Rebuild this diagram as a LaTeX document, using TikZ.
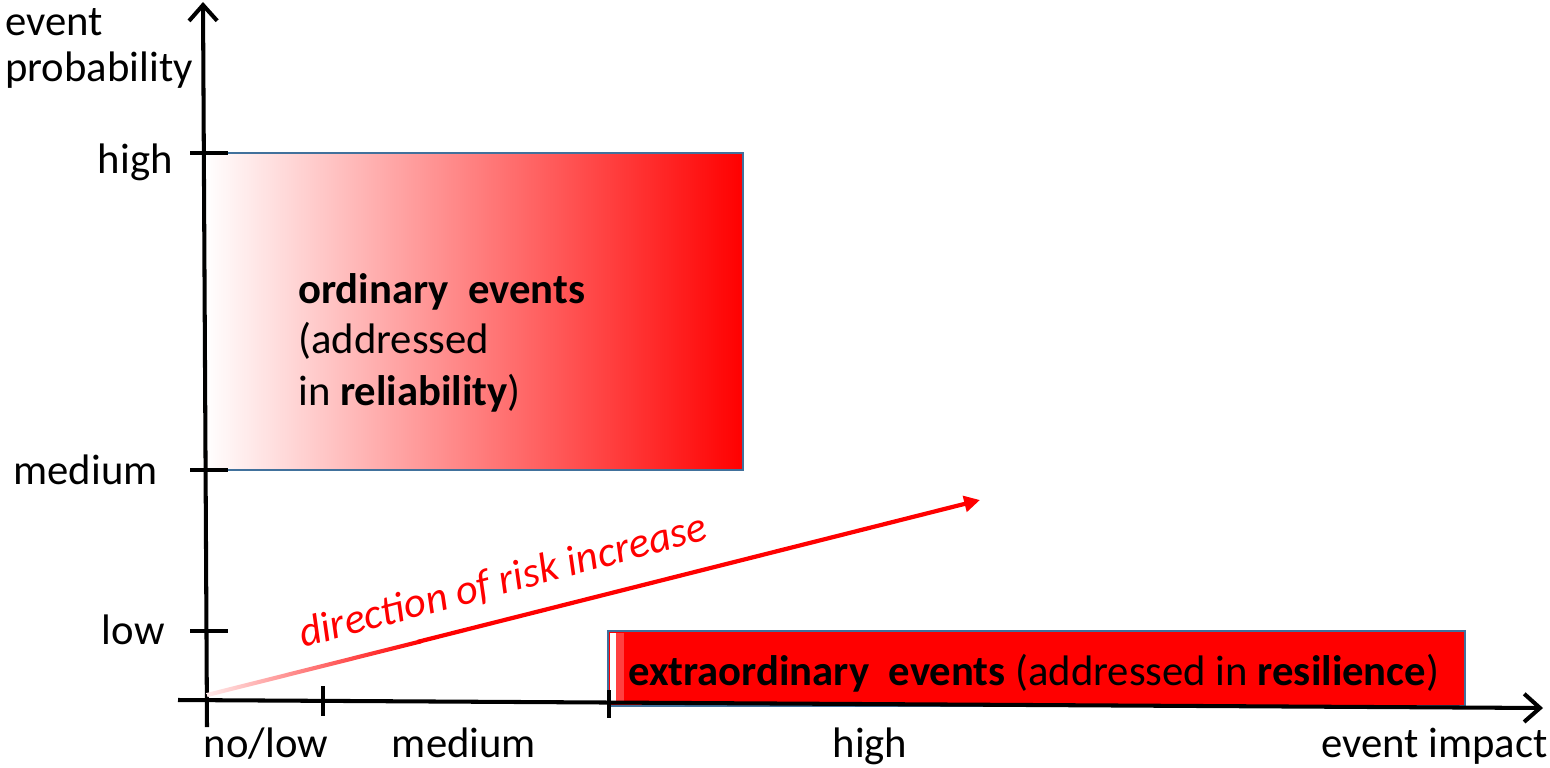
\documentclass[tikz,border=0pt]{standalone}
\usepackage{fontspec}
\setmainfont{Carlito}
\usetikzlibrary{arrows.meta}
\definecolor{boxblue}{RGB}{65,113,156}

\begin{document}
\begin{tikzpicture}[x=0.02cm,y=-0.02cm,
	axis/.style={line width=2.3pt, -{Straight Barb[length=9pt,width=16pt,line width=2.3pt]}},
	tickmark/.style={line width=2.3pt},
	lbl/.style={font=\fontsize{24.3}{29}\selectfont, inner sep=0pt},
	frame/.style={draw=boxblue, line width=1.1pt},
	riskarrow/.style={red, line width=2.4pt, -{Triangle[length=9pt,width=9pt]}}]
	\useasboundingbox (0,0) rectangle (1550,767);
	% ordinary events
	\shade[left color=white, right color=red] (205,153) rectangle (743,470);
	\draw[frame] (205,153) rectangle (743,470);
	% extraordinary events
	\fill[red] (608,631) rectangle (1465,706);
	\fill[white] (610,633) rectangle (616,704);
	\fill[red!75] (616,633) rectangle (624,704);
	\draw[frame] (608,631) rectangle (1465,706);
	% axes
	\draw[axis] (207,727) -- (203,2);
	\draw[axis] (178,700) -- (1543,708);
	\draw [tickmark] (190,153) -- (228,153);
	\draw [tickmark] (190,470) -- (228,470);
	\draw [tickmark] (190,631) -- (228,631);
	\draw [tickmark] (323,686) -- (323,716);
	\draw [tickmark] (609,690) -- (609,718);
	% risk direction
	\coordinate (O) at (207,695);
	\coordinate (riskmid) at (418,641.8);
	\coordinate (riskend) at (980,500);
	\shade[left color=red!8, right color=red] (206.5,693) -- (420.5,639.3) -- (421.5,643.3) -- (207.5,697) -- cycle;
	\draw[riskarrow] (riskmid) -- (riskend);
	\node[lbl, red, anchor=base west, rotate=15] (risk) at (303,648) {\itshape direction of risk increase};
	% labels
	\node[lbl, anchor=base west] (evt) at (5,36) {event};
	\node[lbl, anchor=base west] (prob) at (5,82) {probability};
	\node[lbl, anchor=base east] (yhigh) at (173,173) {high};
	\node[lbl, anchor=base east] (ymed) at (158,484) {medium};
	\node[lbl, anchor=base east] (ylow) at (165,644) {low};
	\node[lbl, anchor=base] (xlow) at (266,757) {no/low};
	\node[lbl, anchor=base] (xmed) at (464,757) {medium};
	\node[lbl, anchor=base] (xhigh) at (870,757) {high};
	\node[lbl, anchor=base east] (ximp) at (1548,757) {event impact};
	\node[lbl, anchor=base west] (ord1) at (298,303) {\textbf{ordinary\ \ events}};
	\node[lbl, anchor=base west] (ord2) at (298,353) {(addressed};
	\node[lbl, anchor=base west] (ord3) at (298,405) {in \textbf{reliability})};
	\node[lbl, anchor=base west] (extra) at (628,685) {\textbf{extraordinary\ \ events} (addressed in \textbf{resilience})};
\end{tikzpicture}
\end{document}
